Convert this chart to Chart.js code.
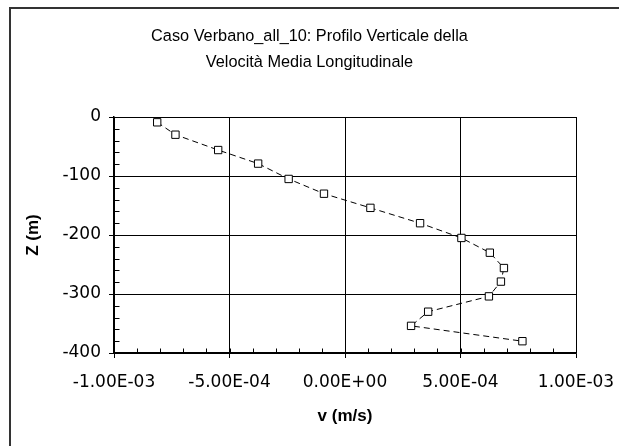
<!DOCTYPE html>
<html>
<head>
<meta charset="utf-8">
<script src="https://cdn.jsdelivr.net/npm/chart.js@4"></script>
<style>
  html, body { margin: 0; padding: 0; background: #fff; }
  canvas { display: block; }
</style>
</head>
<body>
<canvas id="profile" width="619" height="446"></canvas>
<script>
// mean longitudinal velocity (m/s) against depth (m)
const velocity = [-8.13e-4, -7.34e-4, -5.49e-4, -3.76e-4, -2.44e-4, -0.91e-4, 1.10e-4, 3.25e-4,
                  5.04e-4, 6.27e-4, 6.88e-4, 6.75e-4, 6.23e-4, 3.60e-4, 2.86e-4, 7.68e-4];
const depth = [-9, -30, -56, -79, -105, -130, -154, -180, -205, -230, -256, -279, -304, -330, -354, -380];

const xTicks = [-1e-3, -5e-4, 0, 5e-4, 1e-3];
const yTicks = [-400, -300, -200, -100, 0];
const xMinorStep = 1e-4;
const yMinorStep = 20;

const titleLines = ['Caso Verbano_all_10: Profilo Verticale della', 'Velocità Media Longitudinale'];

const FONT = "'Liberation Sans', Arial, sans-serif";
const TICK_FONT = "'DejaVu Sans', sans-serif";

function sci(v) {
  if (Math.abs(v) < 1e-12) v = 0;
  const [m, e] = v.toExponential(2).split('e');
  const n = parseInt(e, 10);
  return m + 'E' + (n < 0 ? '-' : '+') + String(Math.abs(n)).padStart(2, '0');
}

// outer frame lines + minor tick marks on the axes
const frame = {
  id: 'frame',
  beforeDraw(chart) {
    const ctx = chart.ctx;
    ctx.save();
    ctx.fillStyle = '#fff';
    ctx.fillRect(0, 0, chart.width, chart.height);
    ctx.strokeStyle = '#333';
    ctx.lineWidth = 2;
    ctx.beginPath();
    ctx.moveTo(chart.width, 8);
    ctx.lineTo(10, 8);
    ctx.lineTo(10, chart.height);
    ctx.stroke();
    ctx.restore();
  },
  afterDraw(chart) {
    const {ctx, scales: {x, y}} = chart;
    ctx.save();
    ctx.strokeStyle = '#000';
    ctx.lineWidth = 1;
    ctx.beginPath();
    const left = Math.round(x.left) + 0.5;
    for (let z = yTicks[0]; z <= yTicks[yTicks.length - 1]; z += yMinorStep) {
      const py = Math.round(y.getPixelForValue(z)) + 0.5;
      ctx.moveTo(left, py);
      ctx.lineTo(left + 5, py);
    }
    const bottom = Math.round(y.bottom) + 0.5;
    for (let i = 0; i <= 20; i++) {
      const v = xTicks[0] + i * xMinorStep;
      const px = Math.round(x.getPixelForValue(v)) + 0.5;
      ctx.moveTo(px, bottom);
      ctx.lineTo(px, bottom - 5);
    }
    ctx.stroke();
    ctx.restore();
  }
};

new Chart(document.getElementById('profile'), {
  type: 'scatter',
  data: {
    datasets: [{
      data: velocity.map((v, i) => ({x: v, y: depth[i]})),
      showLine: true,
      borderColor: '#000',
      borderWidth: 1,
      borderDash: [6, 4],
      pointStyle: 'rect',
      pointRadius: 5.2,
      pointBackgroundColor: '#fff',
      pointBorderColor: '#000',
      pointBorderWidth: 1
    }]
  },
  options: {
    responsive: false,
    animation: false,
    devicePixelRatio: 1,
    // equal side padding keeps the title centred on the whole canvas
    layout: { padding: { left: 43, right: 43, top: 0, bottom: 0 } },
    plugins: {
      legend: { display: false },
      tooltip: { enabled: false },
      title: {
        display: true,
        text: titleLines,
        color: '#000',
        font: { family: FONT, size: 16.3, weight: 'normal', lineHeight: '26px' },
        padding: { top: 24, bottom: 41 }
      }
    },
    scales: {
      x: {
        type: 'linear',
        min: -1e-3,
        max: 1e-3,
        afterBuildTicks: s => { s.ticks = xTicks.map(v => ({value: v})); },
        afterFit: s => { s.height = 93; s.paddingLeft = 0; s.paddingRight = 0; },
        grid: { color: '#000', lineWidth: 1, tickLength: 5 },
        border: { color: '#000', width: 1.5 },
        ticks: { color: '#000', font: { family: TICK_FONT, size: 17 }, padding: 14, maxRotation: 0, callback: v => sci(v) },
        title: {
          display: true,
          text: 'v (m/s)',
          color: '#000',
          font: { family: FONT, size: 17, weight: 'bold' },
          padding: { top: 0, bottom: 19 }
        }
      },
      y: {
        type: 'linear',
        min: -400,
        max: 0,
        afterBuildTicks: s => { s.ticks = yTicks.map(v => ({value: v})); },
        afterFit: s => { s.width = 71; s.paddingTop = 0; s.paddingBottom = 0; },
        grid: { color: '#000', lineWidth: 1, tickLength: 5 },
        border: { color: '#000', width: 1.5 },
        ticks: { color: '#000', font: { family: TICK_FONT, size: 17 }, padding: 8 },
        title: {
          display: true,
          text: 'Z (m)',
          color: '#000',
          font: { family: FONT, size: 17, weight: 'bold' },
          padding: { top: -20, bottom: 0 }
        }
      }
    }
  },
  plugins: [frame]
});
</script>
</body>
</html>
